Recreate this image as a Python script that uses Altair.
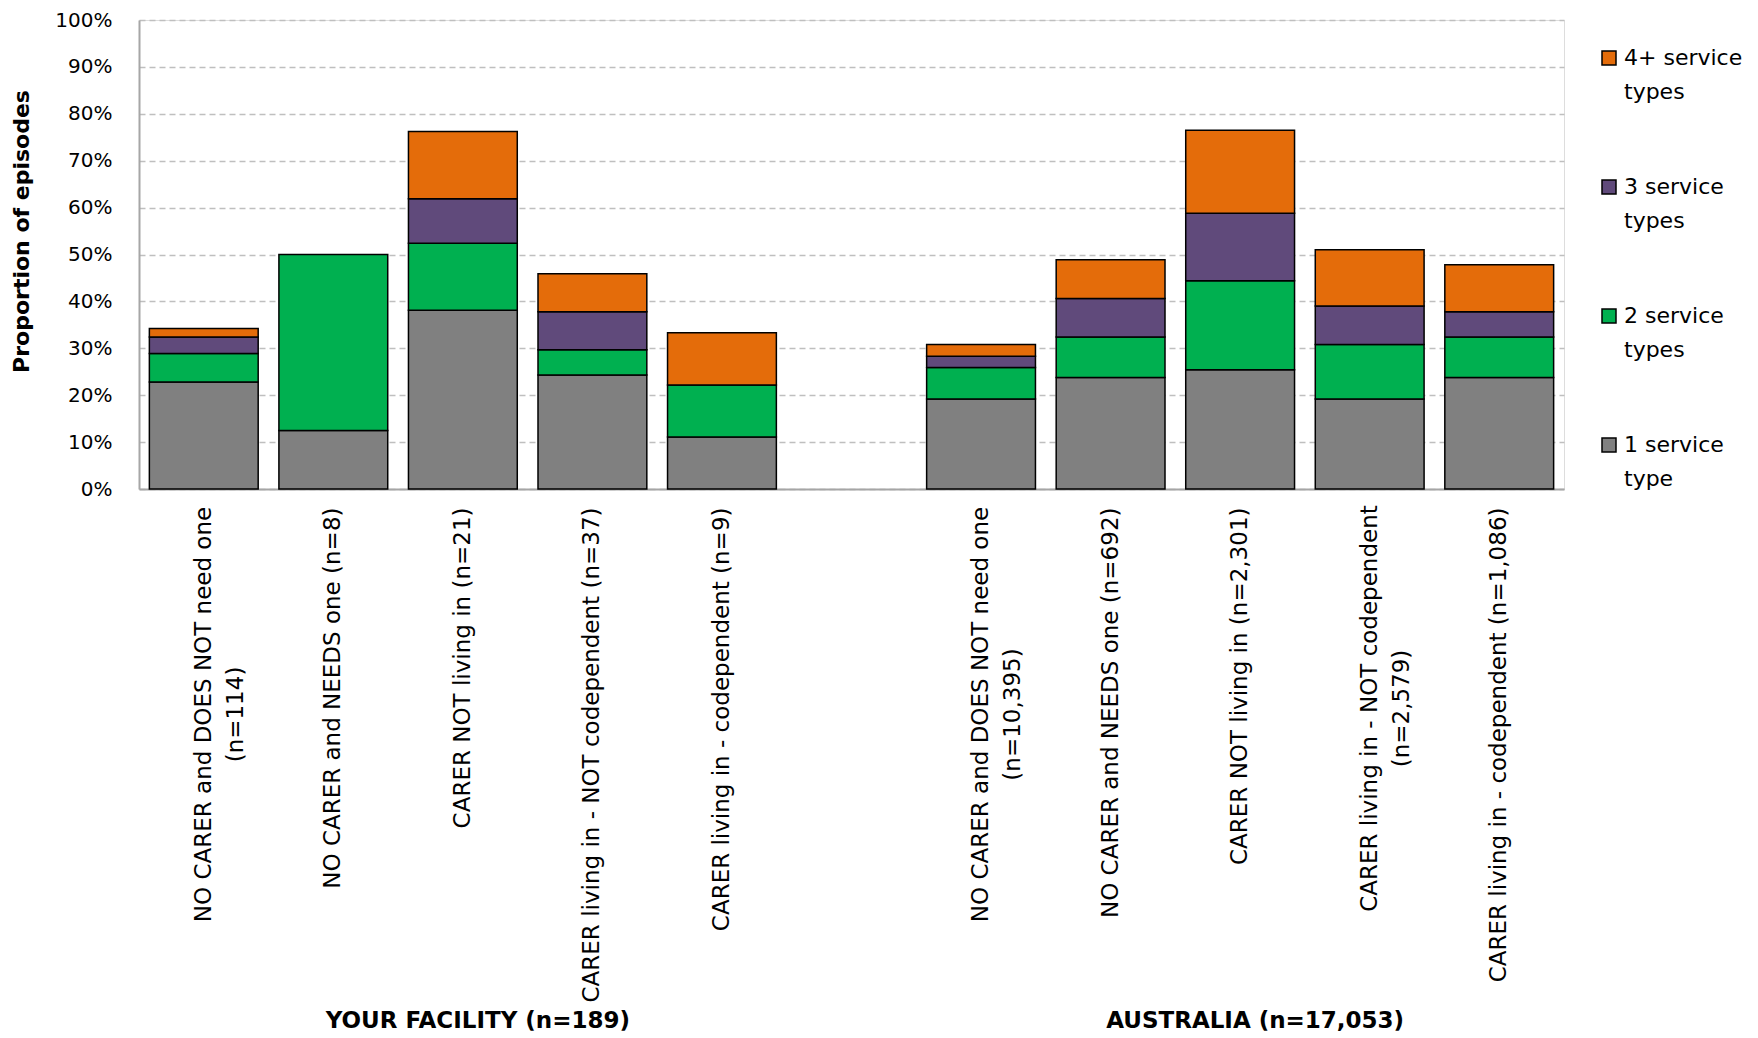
import altair as alt
import pandas as pd

FONT = "DejaVu Sans"

series = ["1 service type", "2 service types", "3 service types", "4+ service types"]
legend_order = ["4+ service types", "3 service types", "2 service types", "1 service type"]
legend_colors = ["#E46C0A", "#604A7B", "#00B050", "#808080"]

facility_cats = [
    "NO CARER and DOES NOT need one|(n=114)",
    "NO CARER and NEEDS one (n=8)",
    "CARER NOT living in  (n=21)",
    "CARER living in - NOT codependent (n=37)",
    "CARER living in - codependent (n=9)",
]
australia_cats = [
    "NO CARER and DOES NOT need one|(n=10,395)",
    "NO CARER and NEEDS one (n=692)",
    "CARER NOT living in  (n=2,301)",
    "CARER living in - NOT codependent|(n=2,579)",
    "CARER living in - codependent (n=1,086)",
]
spacer = " "

# percentages per series (1, 2, 3, 4+ service types)
facility_1 = [22.8, 12.5, 38.1, 24.3, 11.1]
facility_2 = [6.1, 37.5, 14.3, 5.4, 11.1]
facility_3 = [3.5, 0.0, 9.5, 8.1, 0.0]
facility_4 = [1.8, 0.0, 14.3, 8.1, 11.1]

australia_1 = [19.2, 23.8, 25.4, 19.2, 23.8]
australia_2 = [6.7, 8.6, 19.0, 11.6, 8.6]
australia_3 = [2.4, 8.2, 14.4, 8.2, 5.4]
australia_4 = [2.5, 8.3, 17.7, 12.0, 10.0]

group_titles = ["YOUR FACILITY (n=189)", "AUSTRALIA (n=17,053)"]

rows = []
for cats, vals in [
    (facility_cats, [facility_1, facility_2, facility_3, facility_4]),
    (australia_cats, [australia_1, australia_2, australia_3, australia_4]),
]:
    for si, s in enumerate(series):
        for ci, c in enumerate(cats):
            v = vals[si][ci]
            if v > 0:
                rows.append({"category": c, "series": s, "rank": si, "value": v / 100})
df = pd.DataFrame(rows)

x_domain = facility_cats + [spacer] + australia_cats

two_line = "indexof(datum.value, '|') >= 0"

x_enc = alt.X(
    "category:N",
    sort=x_domain,
    scale=alt.Scale(domain=x_domain, paddingInner=0.16, paddingOuter=0.08),
    axis=alt.Axis(
        title=None,
        labelAngle=-90,
        labelExpr="split(datum.label, '|')",
        labelFontSize=23,
        labelLineHeight=32,
        labelLimit=700,
        labelAlign={"condition": {"test": two_line, "value": "center"}, "value": "right"},
        labelPadding={
            "condition": [
                {"test": "indexof(datum.value, 'NOT need one|') >= 0", "value": 225},
                {"test": "indexof(datum.value, 'codependent|') >= 0", "value": 219},
            ],
            "value": 18,
        },
        labelColor="black",
        labelFont=FONT,
        ticks=False,
        domainColor="#A6A6A6",
        domainWidth=2,
        grid=False,
    ),
)

bars = alt.Chart(df).mark_bar(stroke="black", strokeWidth=1.5).encode(
    x=x_enc,
    y=alt.Y(
        "value:Q",
        stack="zero",
        scale=alt.Scale(domain=[0, 1]),
        axis=alt.Axis(
            title="Proportion of episodes",
            format=".0%",
            values=[i / 10 for i in range(11)],
            labelFontSize=20,
            labelColor="black",
            labelFont=FONT,
            labelPadding=27,
            ticks=False,
            domainColor="#A6A6A6",
            domainWidth=2,
            gridColor="#BFBFBF",
            gridDash=[6, 4],
            gridWidth=1.5,
            titleFont=FONT,
            titleFontSize=22,
            titleFontWeight="bold",
            titleColor="black",
            titlePadding=21,
            titleY=211,
        ),
    ),
    color=alt.Color(
        "series:N",
        scale=alt.Scale(domain=legend_order, range=legend_colors),
        legend=alt.Legend(
            title=None,
            orient="none",
            legendX=1459,
            legendY=27,
            labelExpr="[slice(datum.label, 0, indexof(datum.label, ' type')), slice(datum.label, indexof(datum.label, ' type') + 1)]",
            labelFont=FONT,
            labelFontSize=22,
            labelColor="black",
            labelOffset=4,
            labelLimit=300,
            symbolType="square",
            symbolSize=196,
            symbolStrokeColor="black",
            symbolStrokeWidth=1.5,
            symbolOpacity=1,
            rowPadding=73,
        ),
    ),
    order=alt.Order("rank:Q", sort="ascending"),
)

titles_df = pd.DataFrame({"title": group_titles, "category": [facility_cats[2], australia_cats[2]]})
titles = alt.Chart(titles_df).mark_text(
    font=FONT, fontSize=23, fontWeight="bold", color="black", dx=15, baseline="middle"
).encode(
    x=alt.X("category:N", sort=x_domain),
    y=alt.value(1001),
    text="title:N",
)

chart = (
    alt.layer(bars, titles)
    .properties(width=1425, height=469, padding={"left": 2, "top": 2, "right": 0, "bottom": 0})
    .configure_view(stroke=None)
    .configure(font=FONT, style={"guide-label": {"lineHeight": 34}})
)

chart.save("out.html", embed_options={"renderer": "svg", "actions": False})
